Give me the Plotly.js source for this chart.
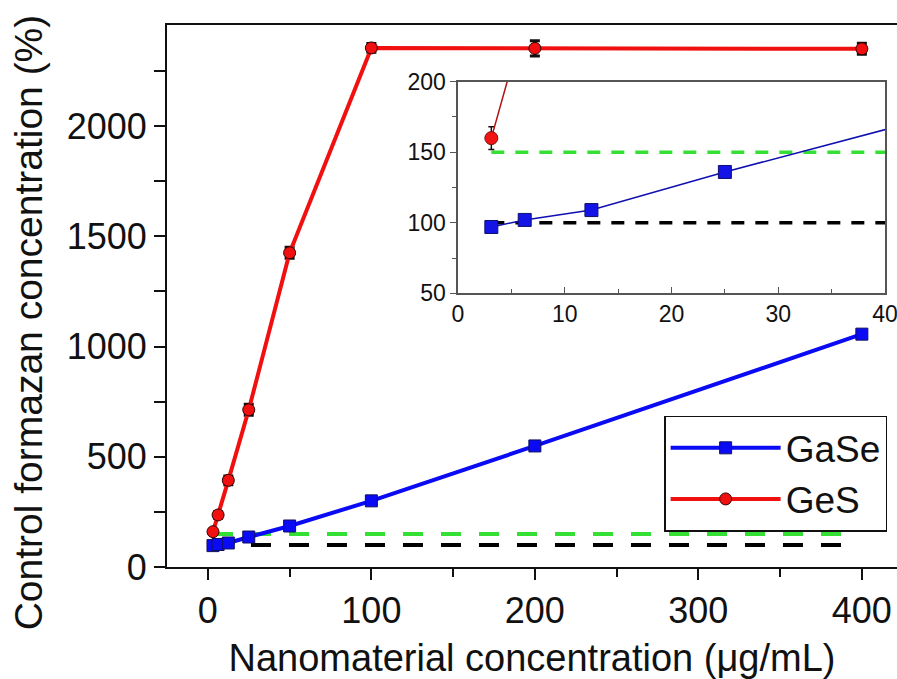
<!DOCTYPE html>
<html>
<head>
<meta charset="utf-8">
<script src="https://cdn.plot.ly/plotly-3.0.1.min.js"></script>
<style>html,body{margin:0;padding:0;background:#fff;}#chart{width:897px;height:679px;}</style>
</head>
<body>
<div id="chart"></div>
<script>
// Data
const conc = [3.125, 6.25, 12.5, 25, 50, 100, 200, 400];
const gaseValues = [97, 102, 109, 136, 186, 300, 549, 1056];
const gaseErrors = [3, 3, 4, 4, 10, 14, 15, 15];
const gesValues = [160, 236, 393, 713, 1425, 2354, 2352, 2350];
const gesErrors = [8, 15, 20, 25, 25, 20, 35, 25];
const refX = [3.125, 393];
const controlLevel = [100, 100];
const thresholdLevel = [150, 150];
const seriesNames = ['GaSe', 'GeS'];

const font = 'Liberation Sans, Arial, sans-serif';
const blue = '#0a0af5';
const red = '#f01010';
const green = '#33e033';

const traces = [
  // main dashed lines
  {x: refX, y: thresholdLevel, mode: 'lines', line: {color: green, width: 4, dash: '20px,18px'}, showlegend: false, hoverinfo: 'skip'},
  {x: refX, y: controlLevel, mode: 'lines', line: {color: '#000', width: 4, dash: '20px,18px'}, showlegend: false, hoverinfo: 'skip'},
  {x: conc, y: gaseValues, name: seriesNames[0], mode: 'lines+markers',
   line: {color: blue, width: 4}, marker: {symbol: 'square', size: 12, color: blue, line: {color: '#101060', width: 1}},
   error_y: {type: 'data', array: gaseErrors, color: '#111', thickness: 3, width: 5}},
  {x: conc, y: gesValues, name: seriesNames[1], mode: 'lines+markers',
   line: {color: red, width: 4}, marker: {symbol: 'circle', size: 12, color: red, line: {color: '#300', width: 1}},
   error_y: {type: 'data', array: gesErrors, color: '#111', thickness: 3, width: 5}},
  // inset
  {x: refX, y: thresholdLevel, xaxis: 'x2', yaxis: 'y2', mode: 'lines', line: {color: green, width: 3.5, dash: '13px,11px'}, showlegend: false, hoverinfo: 'skip'},
  {x: refX, y: controlLevel, xaxis: 'x2', yaxis: 'y2', mode: 'lines', line: {color: '#000', width: 3.5, dash: '13px,11px'}, showlegend: false, hoverinfo: 'skip'},
  {x: conc, y: gaseValues, xaxis: 'x2', yaxis: 'y2', mode: 'lines+markers', showlegend: false,
   line: {color: '#1010b0', width: 1.5}, marker: {symbol: 'square', size: 13, color: '#1414e6', line: {color: '#101070', width: 1}},
   error_y: {type: 'data', array: gaseErrors, color: '#111', thickness: 1.5, width: 3}},
  {x: conc, y: gesValues, xaxis: 'x2', yaxis: 'y2', mode: 'lines+markers', showlegend: false,
   line: {color: '#b01010', width: 1.5}, marker: {symbol: 'circle', size: 13, color: '#f01414', line: {color: '#801010', width: 1}},
   error_y: {type: 'data', array: gesErrors, color: '#111', thickness: 1.5, width: 3}}
];

const layout = {
  width: 897, height: 679,
  margin: {l: 167, r: 0, t: 25, b: 112},
  paper_bgcolor: '#fff', plot_bgcolor: '#fff',
  font: {family: font, color: '#111'},
  showlegend: true,
  legend: {x: 0.681, y: 0.279, xanchor: 'left', yanchor: 'top', bordercolor: '#111', borderwidth: 1.5,
    bgcolor: '#fff', font: {size: 37, family: font, color: '#111'}, itemwidth: 110, tracegroupgap: 0},
  xaxis: {
    range: [-25, 421.5], showgrid: false, zeroline: false,
    showline: true, linecolor: '#111', linewidth: 2, mirror: true,
    ticks: 'outside', ticklen: 11, tickwidth: 2, tickcolor: '#111',
    tickvals: [0, 100, 200, 300, 400], ticktext: ['0', '100', '200', '300', '400'],
    minor: {tickvals: [50, 150, 250, 350], ticks: 'outside', ticklen: 8, tickwidth: 2, tickcolor: '#111'},
    tickfont: {size: 36, family: font, color: '#111'},
    title: {text: 'Nanomaterial concentration (μg/mL)', font: {size: 38, family: font, color: '#111'}, standoff: 14},
    domain: [0, 1]
  },
  yaxis: {
    range: [0, 2458], showgrid: false, zeroline: false,
    showline: true, linecolor: '#111', linewidth: 2,
    ticks: 'outside', ticklen: 11, tickwidth: 2, tickcolor: '#111',
    tickvals: [0, 500, 1000, 1500, 2000],
    minor: {tickvals: [250, 750, 1250, 1750, 2250], ticks: 'outside', ticklen: 11, tickwidth: 2, tickcolor: '#111'},
    tickfont: {size: 36, family: font, color: '#111'},
    domain: [0, 1]
  },
  xaxis2: {
    anchor: 'y2', domain: [0.3986, 0.9836], range: [0, 40],
    showgrid: false, zeroline: false, showline: true, linecolor: '#555', linewidth: 1.5, mirror: true,
    ticks: 'inside', ticklen: 6, tickwidth: 1, tickcolor: '#555',
    tickvals: [0, 10, 20, 30, 40], ticklabeloverflow: 'allow',
    minor: {tickvals: [5, 15, 25, 35], ticks: 'inside', ticklen: 4, tickwidth: 1, tickcolor: '#555'},
    tickfont: {size: 23, family: font, color: '#111'}
  },
  yaxis2: {
    anchor: 'x2', domain: [0.505, 0.8954], range: [50, 200],
    showgrid: false, zeroline: false, showline: true, linecolor: '#555', linewidth: 1.5, mirror: true,
    ticks: 'outside', ticklen: 6, tickwidth: 1, tickcolor: '#555',
    tickvals: [50, 100, 150, 200],
    minor: {tickvals: [75, 125, 175], ticks: 'outside', ticklen: 4, tickwidth: 1, tickcolor: '#555'},
    tickfont: {size: 23, family: font, color: '#111'}
  },
  annotations: [{
    text: 'Control formazan concentration (%)', textangle: -90,
    xref: 'paper', yref: 'paper', x: -0.19, y: 0.452, xanchor: 'center', yanchor: 'middle',
    showarrow: false, font: {size: 39, family: font, color: '#111'}
  }]
};

Plotly.newPlot('chart', traces, layout, {displayModeBar: false, staticPlot: true});
</script>
</body>
</html>
